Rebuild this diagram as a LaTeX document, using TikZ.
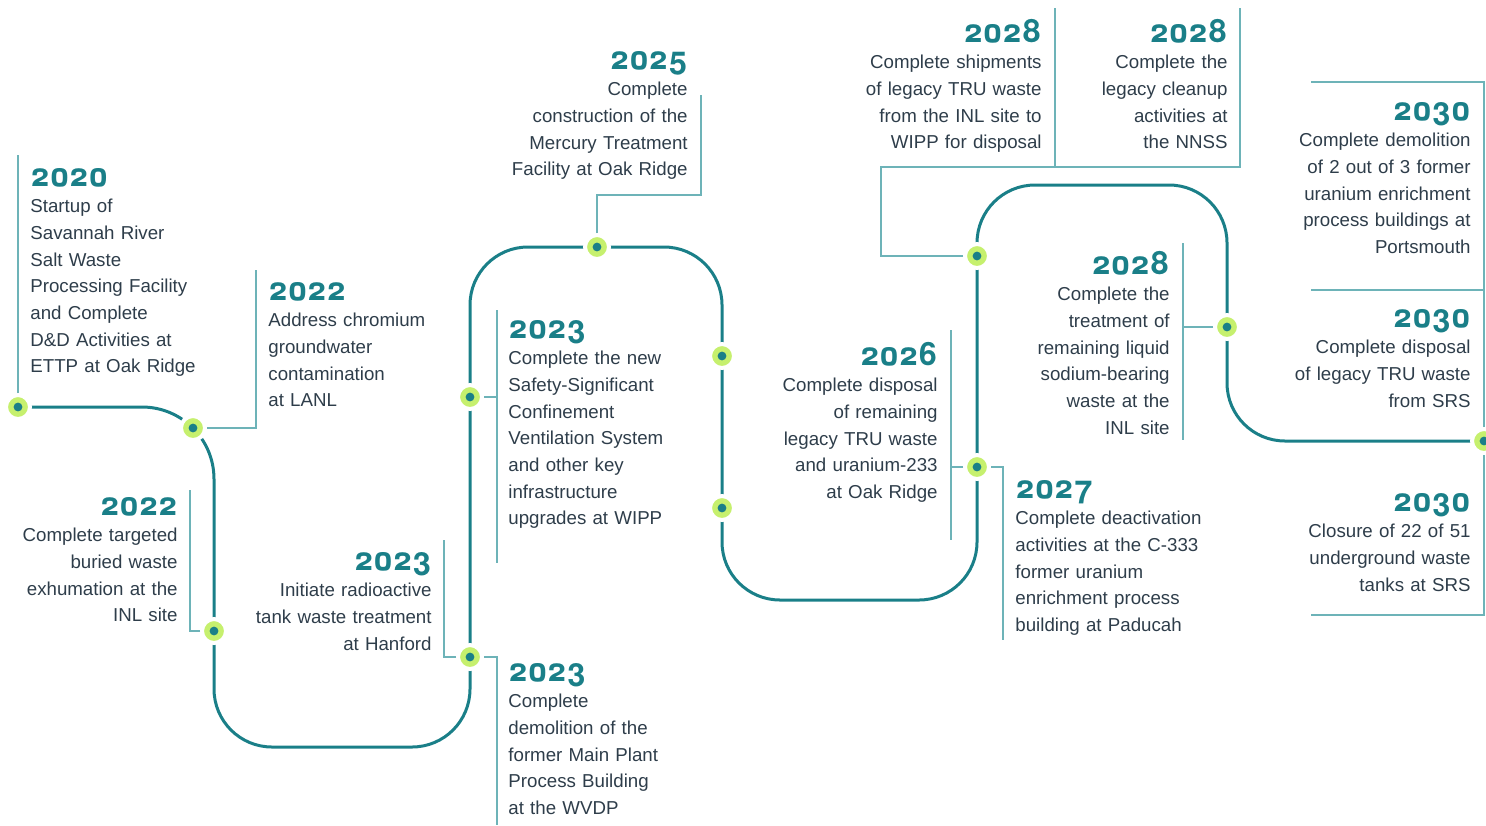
\documentclass[tikz,border=0pt]{standalone}
\usepackage{fontspec}
\setmainfont{Liberation Sans}
\newfontfamily\yearfont[Numbers=OldStyle]{TeX Gyre Heros}
\definecolor{trackteal}{HTML}{1A7F88}
\definecolor{leadteal}{HTML}{6DB3B8}
\definecolor{ringgreen}{HTML}{C6F06E}
\definecolor{inkslate}{HTML}{2E3D4A}
\newcommand\yr[1]{{\yearfont\bfseries\fontsize{16pt}{13.35pt}\selectfont\color{trackteal}#1}}
\begin{document}
\begin{tikzpicture}[x = 0.5pt, y = -0.5pt,
        track/.style = {draw = trackteal, line width = 1.5pt},
        leader/.style = {draw = leadteal, line width = 0.65pt},
        marker/.style = {circle, fill = ringgreen, draw = white, line width = 2pt, minimum size = 12pt, inner sep = 0pt,
            path picture = {\fill [trackteal] (path picture bounding box.center) circle (2.2pt);}},
        event/.style = {inner sep = 0pt, text width = 112pt, text = inkslate, font = \fontsize{9.35pt}{13.35pt}\selectfont},
        eventL/.style = {event, align = left, anchor = base west},
        eventR/.style = {event, align = right, anchor = base east}]
    \useasboundingbox (0,0) rectangle (1486,825);
    \draw [track, rounded corners = 36pt] (18,407) -- (214,407) [rounded corners = 29pt] -- (214,747) -- (470,747) -- (470,247) -- (722,247) -- (722,600) -- (977,600) -- (977,185) -- (1227,185) -- (1227,441) -- (1486,441);

    \node [marker] (m1) at (18,407) {};
    \node [marker] (m2) at (193,428) {};
    \node [marker] (m3) at (214,631) {};
    \node [marker] (m4) at (470,657) {};
    \node [marker] (m5) at (470,397) {};
    \node [marker] (m6) at (597,247) {};
    \node [marker] (m7) at (722,356) {};
    \node [marker] (m8) at (722,508) {};
    \node [marker] (m9) at (977,467) {};
    \node [marker] (m10) at (977,256) {};
    \node [marker] (m11) at (1227,327) {};
    \node [marker] (m12) at (1484,441) {};

    \coordinate (e1) at (18,155);
    \coordinate (e2) at (256,270);
    \coordinate (e3) at (190,490);
    \coordinate (e4) at (444,540);
    \coordinate (e5a) at (497,310);
    \coordinate (e5b) at (497,563);
    \coordinate (e6) at (497,825);
    \coordinate (b7) at (701,195);
    \coordinate (e7) at (701,95);
    \coordinate (e8a) at (951,330);
    \coordinate (e8b) at (951,540);
    \coordinate (e9) at (1003,640);
    \coordinate (b10) at (881,167);
    \coordinate (e10a) at (1055,8);
    \coordinate (e10b) at (1240,8);
    \coordinate (e11a) at (1183,243);
    \coordinate (e11b) at (1183,440);
    \coordinate (e12a) at (1311,82);
    \coordinate (e12b) at (1311,290);
    \coordinate (e12c) at (1311,615);

    \draw [leader] (m1) -- (e1);
    \draw [leader] (m2) -| (e2);
    \draw [leader] (m3) -| (e3);
    \draw [leader] (m4) -| (e4);
    \draw [leader] (e5a) -- (e5b);
    \draw [leader] (m5) -- (m5 -| e5a);
    \draw [leader] (m4) -| (e6);
    \draw [leader] (m6) |- (b7) -- (e7);
    \draw [leader] (e8a) -- (e8b);
    \draw [leader] (m9) -- (m9 -| e8a);
    \draw [leader] (m9) -| (e9);
    \draw [leader] (m10) -| (b10) -| (e10b);
    \draw [leader] (e10a) -- (e10a |- b10);
    \draw [leader] (e11a) -- (e11b);
    \draw [leader] (m11) -- (m11 -| e11a);
    \draw [leader] (m12) |- (e12a);
    \draw [leader] (m12) |- (e12c);
    \draw [leader] (e12b) -- (e12b -| m12);

    \node [eventL] (t1) at (30,186) {\yr{2020}\\Startup of\\Savannah River\\Salt Waste\\Processing Facility\\and Complete\\D\&D Activities at\\ETTP at Oak Ridge};
    \node [eventL] (t2) at (268,300) {\yr{2022}\\Address chromium\\groundwater\\contamination\\at LANL};
    \node [eventR] (t3) at (178,515) {\yr{2022}\\Complete targeted\\buried waste\\exhumation at the\\INL site};
    \node [eventR] (t4) at (432,570) {\yr{2023}\\Initiate radioactive\\tank waste treatment\\at Hanford};
    \node [eventL] (t5) at (508,338) {\yr{2023}\\Complete the new\\Safety-Significant\\Confinement\\Ventilation System\\and other key\\infrastructure\\upgrades at WIPP};
    \node [eventL] (t6) at (508,681) {\yr{2023}\\Complete\\demolition of the\\former Main Plant\\Process Building\\at the WVDP};
    \node [eventR] (t7) at (688,69) {\yr{2025}\\Complete\\construction of the\\Mercury Treatment\\Facility at Oak Ridge};
    \node [eventR] (t8) at (938,365) {\yr{2026}\\Complete disposal\\of remaining\\legacy TRU waste\\and uranium-233\\at Oak Ridge};
    \node [eventL] (t9) at (1015,498) {\yr{2027}\\Complete deactivation\\activities at the C-333\\former uranium\\enrichment process\\building at Paducah};
    \node [eventR] (t10) at (1042,42) {\yr{2028}\\Complete shipments\\of legacy TRU waste\\from the INL site to\\WIPP for disposal};
    \node [eventR] (t11) at (1228,42) {\yr{2028}\\Complete the\\legacy cleanup\\activities at\\the NNSS};
    \node [eventR] (t12) at (1170,274) {\yr{2028}\\Complete the\\treatment of\\remaining liquid\\sodium-bearing\\waste at the\\INL site};
    \node [eventR] (t13) at (1471,120) {\yr{2030}\\Complete demolition\\of 2 out of 3 former\\uranium enrichment\\process buildings at\\Portsmouth};
    \node [eventR] (t14) at (1471,327) {\yr{2030}\\Complete disposal\\of legacy TRU waste\\from SRS};
    \node [eventR] (t15) at (1471,511) {\yr{2030}\\Closure of 22 of 51\\underground waste\\tanks at SRS};
\end{tikzpicture}
\end{document}
